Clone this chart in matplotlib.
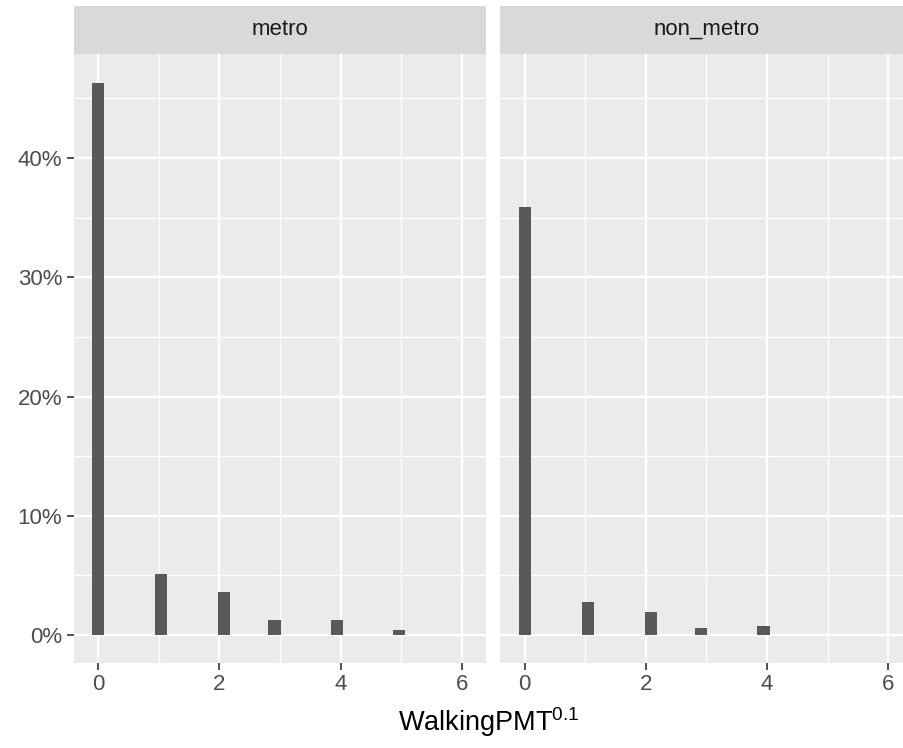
import matplotlib.pyplot as plt
from matplotlib.ticker import FuncFormatter, MultipleLocator
import numpy as np

plt.rcParams['font.family'] = ['Liberation Sans', 'DejaVu Sans']
plt.rcParams['mathtext.fontset'] = 'custom'
plt.rcParams['mathtext.rm'] = 'Liberation Sans'
plt.rcParams['mathtext.it'] = 'Liberation Sans'

# bin centres and shares
panels = ["metro", "non_metro"]
metro_x = [0.0, 1.04, 2.08, 2.91, 3.94, 4.96]
metro_share = [0.463, 0.0514, 0.036, 0.0123, 0.0123, 0.0039]
nonmetro_x = [0.0, 1.04, 2.08, 2.91, 3.94]
nonmetro_share = [0.359, 0.0277, 0.019, 0.0056, 0.0073]
bin_width = 0.2

W, H = 904, 748
fig = plt.figure(figsize=(W / 100, H / 100), dpi=100)

panel_w = 412
panel_top, panel_bot = 54, 662.7
strip_top = 6
lefts = [74, 500.5]
data = [(metro_x, metro_share), (nonmetro_x, nonmetro_share)]

for i, (name, left) in enumerate(zip(panels, lefts)):
    ax = fig.add_axes([left / W, 1 - panel_bot / H, panel_w / W, (panel_bot - panel_top) / H])
    ax.set_facecolor("#EBEBEB")
    xs, ys = data[i]
    ax.bar(xs, ys, width=bin_width, color="#595959", zorder=3)
    ax.set_xlim(-0.4, 6.4)
    ax.set_ylim(-0.0232, 0.4872)
    ax.xaxis.set_major_locator(MultipleLocator(2))
    ax.xaxis.set_minor_locator(MultipleLocator(1))
    ax.yaxis.set_major_locator(MultipleLocator(0.1))
    ax.yaxis.set_minor_locator(MultipleLocator(0.05))
    ax.grid(True, which="major", color="white", linewidth=1.7, zorder=1)
    ax.grid(True, which="minor", color="white", linewidth=0.9, zorder=1)
    ax.set_axisbelow(True)
    for s in ax.spines.values():
        s.set_visible(False)
    ax.tick_params(which="minor", length=0)
    ax.tick_params(which="major", length=5, width=1.2, color="#333333",
                   labelcolor="#4D4D4D", labelsize=16, pad=3.4)
    ax.yaxis.set_major_formatter(FuncFormatter(lambda v, p: f"{v * 100:.0f}%"))
    if i == 1:
        ax.tick_params(axis="y", left=False, labelleft=False)

    # facet strip
    sax = fig.add_axes([left / W, 1 - panel_top / H, panel_w / W, (panel_top - strip_top) / H])
    sax.set_facecolor("#D9D9D9")
    sax.set_xticks([])
    sax.set_yticks([])
    for s in sax.spines.values():
        s.set_visible(False)
    sax.text(0.5, 0.52, name, ha="center", va="center", fontsize=16, color="#1A1A1A",
             transform=sax.transAxes)

fig.text(489 / W, 1 - 731 / H, r"WalkingPMT$^{0.1}$", ha="center", va="baseline",
         fontsize=19.5, color="black")

fig.savefig("out.png", dpi=100)
